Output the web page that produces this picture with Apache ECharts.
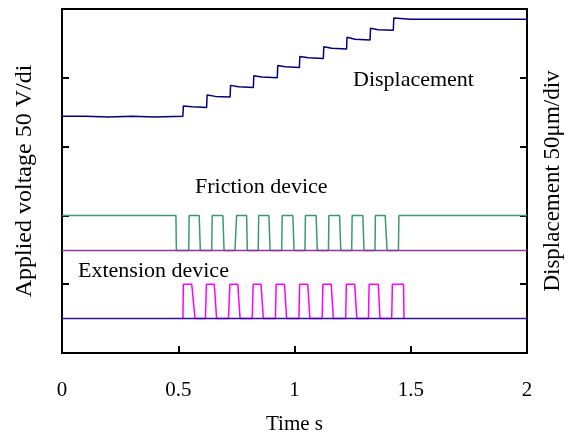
<!DOCTYPE html>
<html>
<head>
<meta charset="utf-8">
<script src="https://cdn.jsdelivr.net/npm/echarts@6/dist/echarts.min.js"></script>
<style>html,body{margin:0;padding:0;background:#fff}#c{width:570px;height:440px}</style>
</head>
<body>
<div id="c"></div>
<script>
// x tick labels
const xTicks = [0, 0.5, 1, 1.5, 2];

// Displacement staircase [time s, divisions]
const displacement = [
  [0,3.44],[0.10,3.44],[0.20,3.43],[0.30,3.44],[0.40,3.43],[0.52,3.44],
  [0.522,3.59],[0.56,3.58],[0.622,3.57],
  [0.624,3.75],[0.66,3.73],[0.723,3.72],
  [0.725,3.89],[0.76,3.87],[0.823,3.86],
  [0.825,4.03],[0.86,4.01],[0.926,4.00],
  [0.928,4.18],[0.96,4.16],[1.021,4.15],
  [1.023,4.31],[1.06,4.29],[1.124,4.28],
  [1.126,4.45],[1.16,4.43],[1.224,4.42],
  [1.226,4.59],[1.26,4.56],[1.325,4.55],
  [1.327,4.72],[1.36,4.70],[1.425,4.69],
  [1.427,4.87],[1.50,4.85],[1.70,4.85],[1.90,4.85],[2,4.85]
];

// Friction device voltage
const friction = [
  [0,2.0],[0.490,2.0],[0.492,1.49],[0.545,1.49],[0.547,2.0],[0.590,2.0],[0.595,1.49],
  [0.644,1.49],[0.646,2.0],[0.692,2.0],[0.697,1.49],[0.744,1.49],[0.751,2.0],[0.794,2.0],
  [0.797,1.49],[0.844,1.49],[0.846,2.0],[0.890,2.0],[0.895,1.49],[0.945,1.49],[0.947,2.0],
  [0.993,2.0],[0.998,1.49],[1.045,1.49],[1.047,2.0],[1.093,2.0],[1.098,1.49],[1.146,1.49],
  [1.148,2.0],[1.194,2.0],[1.199,1.49],[1.246,1.49],[1.248,2.0],[1.294,2.0],[1.299,1.49],
  [1.346,1.49],[1.348,2.0],[1.390,2.0],[1.398,1.49],[1.447,1.49],[1.449,2.0],[2,2.0]
];

// Extension device voltage
const extension = [
  [0.520,0.5],[0.522,1.0],[0.558,1.0],[0.572,0.5],[0.617,0.5],[0.621,1.0],[0.655,1.0],[0.665,0.5],
  [0.716,0.5],[0.722,1.0],[0.756,1.0],[0.766,0.5],[0.818,0.5],[0.822,1.0],[0.856,1.0],[0.866,0.5],
  [0.918,0.5],[0.921,1.0],[0.957,1.0],[0.966,0.5],[1.019,0.5],[1.022,1.0],[1.057,1.0],[1.066,0.5],
  [1.119,0.5],[1.122,1.0],[1.158,1.0],[1.167,0.5],[1.220,0.5],[1.223,1.0],[1.259,1.0],[1.268,0.5],
  [1.318,0.5],[1.321,1.0],[1.360,1.0],[1.368,0.5],[1.418,0.5],[1.421,1.0],[1.469,1.0],[1.471,0.5]
];

// Zero lines of both devices
const frictionBase = [[0,1.49],[2,1.49]];
const extensionBase = [[0,0.5],[2,0.5]];

const FONT = 'Liberation Serif';
const chart = echarts.init(document.getElementById('c'));
const yCommon = {
  type: 'value', min: 0, max: 5, interval: 1,
  axisLine: { show: true, lineStyle: { color: '#000', width: 2 } },
  axisTick: { show: true, inside: true, length: 7, lineStyle: { color: '#000', width: 2 } },
  axisLabel: { show: false }, splitLine: { show: false },
  nameLocation: 'middle', nameRotate: 90
};
chart.setOption({
  animation: false,
  backgroundColor: '#fff',
  grid: { left: 62, right: 43, top: 9, bottom: 87, show: true, borderColor: '#000', borderWidth: 2,
    containLabel: false, outerBoundsMode: 'none' },
  xAxis: {
    type: 'value', min: 0, max: 2, interval: 0.5,
    axisLine: { show: true, lineStyle: { color: '#000', width: 2 } },
    axisTick: { show: true, inside: true, length: 7, lineStyle: { color: '#000', width: 2 } },
    axisLabel: { fontFamily: FONT, fontSize: 21, color: '#000', margin: 27,
      formatter: v => xTicks.includes(v) ? String(v) : '' },
    splitLine: { show: false },
    name: 'Time s', nameLocation: 'middle', nameGap: 61,
    nameTextStyle: { fontFamily: FONT, fontSize: 21, color: '#000' }
  },
  yAxis: [
    Object.assign({}, yCommon, { position: 'left', name: 'Applied voltage 50 V/di', nameGap: 25,
      nameTextStyle: { fontFamily: FONT, fontSize: 24, color: '#000' } }),
    Object.assign({}, yCommon, { position: 'right', name: 'Displacement 50\u03bcm/div', nameGap: 14,
      nameTextStyle: { fontFamily: FONT, fontSize: 23, color: '#000' } })
  ],
  series: [
    { type: 'line', data: friction, symbol: 'none', lineStyle: { color: '#3a9a6c', width: 1.5 }, z: 2 },
    { type: 'line', data: extension, symbol: 'none', lineStyle: { color: '#ff00ff', width: 1.5 }, z: 2 },
    { type: 'line', data: frictionBase, symbol: 'none', lineStyle: { color: '#993399', width: 1.5 }, z: 3 },
    { type: 'line', data: extensionBase, symbol: 'none', lineStyle: { color: '#33109a', width: 1.5 }, z: 3 },
    { type: 'line', data: displacement, symbol: 'none', lineStyle: { color: '#000080', width: 1.5 }, z: 4 }
  ],
  graphic: [
    { type: 'text', left: 353, top: 69, style: { text: 'Displacement', font: '22px "Liberation Serif"', fill: '#000' } },
    { type: 'text', left: 195, top: 176, style: { text: 'Friction device', font: '22px "Liberation Serif"', fill: '#000' } },
    { type: 'text', left: 78, top: 260, style: { text: 'Extension device', font: '22px "Liberation Serif"', fill: '#000' } }
  ]
});
</script>
</body>
</html>
